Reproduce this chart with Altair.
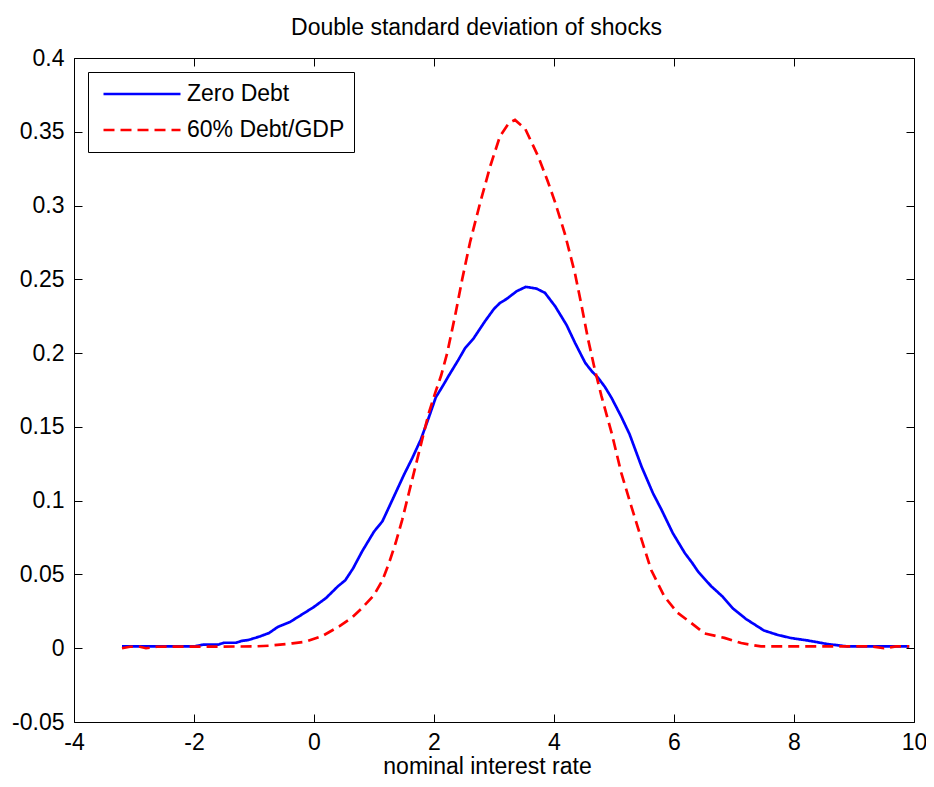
import altair as alt
import pandas as pd

# ---------------------------------------------------------
# Data
# ---------------------------------------------------------
series_names = ["Zero Debt", "60% Debt/GDP"]

zero_debt_x = [-3.2, -2.0, -1.85, -1.6, -1.5, -1.3, -1.2, -1.1, -0.9, -0.75, -0.6, -0.4,
               -0.25, 0.0, 0.2, 0.4, 0.52, 0.65, 0.8, 1.0, 1.14, 1.3, 1.5, 1.64, 1.78,
               1.91, 2.03, 2.15, 2.25, 2.4, 2.52, 2.66, 2.85, 3.0, 3.1, 3.21, 3.38, 3.53,
               3.71, 3.85, 4.02, 4.21, 4.35, 4.52, 4.63, 4.74, 4.85, 4.96, 5.12, 5.26,
               5.46, 5.65, 5.79, 5.98, 6.18, 6.3, 6.4, 6.62, 6.81, 6.98, 7.2, 7.5, 7.73,
               7.95, 8.22, 8.4, 8.56, 8.9, 9.92]
zero_debt_y = [0.0012, 0.0012, 0.0024, 0.0024, 0.0037, 0.0037, 0.005, 0.0055, 0.008, 0.0103,
               0.0145, 0.0178, 0.0216, 0.028, 0.034, 0.042, 0.046, 0.054, 0.0655, 0.079,
               0.086, 0.1, 0.1176, 0.129, 0.1414, 0.156, 0.17, 0.178, 0.185, 0.195, 0.2035,
               0.21, 0.2216, 0.23, 0.234, 0.2367, 0.242, 0.2449, 0.2437, 0.2408, 0.2317,
               0.219, 0.207, 0.1934, 0.1877, 0.183, 0.177, 0.1696, 0.157, 0.145, 0.123,
               0.105, 0.094, 0.078, 0.0645, 0.058, 0.052, 0.042, 0.035, 0.027, 0.0198,
               0.012, 0.009, 0.0069, 0.0053, 0.004, 0.0028, 0.0012, 0.0012]

debt_x = [-3.2, -3.07, -2.9, -2.8, -2.62, -1.0, -0.75, -0.36, -0.14, 0.14, 0.42, 0.64, 0.8,
          1.0, 1.14, 1.25, 1.36, 1.47, 1.58, 1.69, 1.8, 1.91, 2.02, 2.12, 2.22, 2.36, 2.47,
          2.6, 2.77, 2.94, 3.1, 3.25, 3.35, 3.52, 3.74, 3.9, 4.02, 4.18, 4.35, 4.46, 4.57,
          4.68, 4.79, 4.96, 5.12, 5.29, 5.46, 5.62, 5.84, 6.06, 6.29, 6.51, 6.84, 7.12,
          7.45, 9.3, 9.5, 9.7, 9.92]
debt_y = [0.0, 0.001, 0.001, 0.0, 0.001, 0.0012, 0.0017, 0.0033, 0.0044, 0.0083, 0.0148,
          0.021, 0.0272, 0.036, 0.046, 0.0577, 0.0713, 0.087, 0.105, 0.123, 0.141, 0.159,
          0.173, 0.185, 0.2, 0.227, 0.25, 0.275, 0.302, 0.327, 0.347, 0.356, 0.358, 0.352,
          0.333, 0.316, 0.302, 0.281, 0.254, 0.232, 0.209, 0.189, 0.171, 0.146, 0.119,
          0.096, 0.0736, 0.053, 0.035, 0.024, 0.017, 0.010, 0.007, 0.0035, 0.0012, 0.0012,
          0.0, 0.0012, 0.0012]

x_ticks = [-4, -2, 0, 2, 4, 6, 8, 10]
y_ticks = [-0.05, 0, 0.05, 0.1, 0.15, 0.2, 0.25, 0.3, 0.35, 0.4]

df = pd.concat([
    pd.DataFrame({"x": zero_debt_x, "y": zero_debt_y, "series": series_names[0]}),
    pd.DataFrame({"x": debt_x, "y": debt_y, "series": series_names[1]}),
])

FONT = "Liberation Sans"
FS = 23
TICK = 8
# plain "g" style numbers with an ascii minus, like the original
LABEL_FMT = "replace(format(datum.value, '~g'), '\u2212', '-')"

x_scale = alt.Scale(domain=[-4, 10], nice=False, zero=False)
y_scale = alt.Scale(domain=[-0.05, 0.4], nice=False, zero=False)
title_style = dict(titleFont=FONT, titleFontSize=FS, titleFontWeight="normal",
                   titleColor="black", titleAlign="center")


def _axis(orient, labels=True, **kw):
    # ticks pointing into the plot: axis pulled inside by its own tick length
    return alt.Axis(
        orient=orient, offset=-TICK, tickSize=TICK, tickColor="black", tickWidth=1,
        domain=False, grid=False, labels=labels, labelFont=FONT, labelFontSize=FS,
        labelColor="black", labelFlush=False, labelOverlap=False, labelExpr=LABEL_FMT,
        **kw,
    )


# a little blank room after the labels, so the box is as wide as the original
legend = alt.Legend(labelExpr="datum.label + '\u2002\u2009'")

lines = (
    alt.Chart(df)
    .mark_line(strokeWidth=2.7)
    .encode(
        x=alt.X("x:Q", scale=x_scale, title="nominal interest rate",
                axis=_axis("bottom", values=x_ticks, labelPadding=9,
                           titleX=413, titleY=64, titleBaseline="bottom", **title_style)),
        y=alt.Y("y:Q", scale=y_scale, title=None,
                axis=_axis("left", values=y_ticks, labelPadding=10)),
        color=alt.Color("series:N", title=None, legend=legend,
                        scale=alt.Scale(domain=series_names, range=["#0000ff", "#ff0000"])),
        strokeDash=alt.StrokeDash("series:N", title=None, legend=legend,
                                  scale=alt.Scale(domain=series_names, range=[[1, 0], [11, 6]])),
    )
)

# invisible layer that carries the top / right tick axes (and the figure title)
frame = (
    alt.Chart(df)
    .mark_line(opacity=0)
    .encode(
        x=alt.X("x:Q", scale=x_scale, title="Double standard deviation of shocks",
                axis=_axis("top", labels=False, values=x_ticks,
                           titleX=402, titleY=-32, titleBaseline="alphabetic", **title_style)),
        y=alt.Y("y:Q", scale=y_scale, title=None,
                axis=_axis("right", labels=False, values=y_ticks)),
        detail="series:N",
    )
)

chart = (
    alt.layer(lines, frame)
    .resolve_axis(x="independent", y="independent")
    .properties(
        width=840,
        height=664,
        autosize=alt.AutoSizeParams(type="none"),
        padding={"left": 66, "top": 50, "right": 12, "bottom": 57},
        background="white",
    )
    .configure_view(stroke="black", strokeWidth=1)
    .configure_legend(
        orient="none", legendX=14, legendY=14, strokeColor="black", fillColor="white",
        padding=9, symbolType="stroke", symbolSize=5929, symbolStrokeWidth=2.7,
        labelFont=FONT, labelFontSize=FS, labelColor="black", labelOffset=5,
        symbolOffset=5, clipHeight=26, rowPadding=10, labelLimit=400,
    )
)

chart.save("out.html", embed_options={"renderer": "svg", "actions": False})
